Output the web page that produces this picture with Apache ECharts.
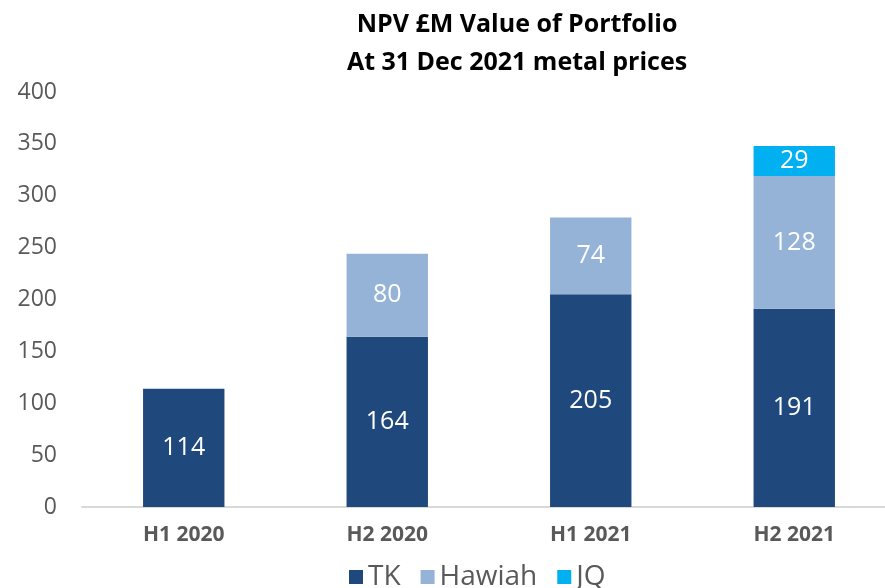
<!DOCTYPE html>
<html>
<head>
<meta charset="utf-8">
<script src="https://cdn.jsdelivr.net/npm/echarts@6/dist/echarts.min.js"></script>
<style>
  html, body { margin: 0; padding: 0; background: #fff; overflow: hidden; }
  #wrap { width: 885px; height: 588px; overflow: hidden; }
  #chart { width: 896px; height: 588px; }
</style>
</head>
<body>
<div id="wrap"><div id="chart"></div></div>
<script>
  const categories = ['H1 2020', 'H2 2020', 'H1 2021', 'H2 2021']
  const tkValues = [114, 164, 205, 191]
  const hawiahValues = [null, 80, 74, 128]
  const jqValues = [null, null, null, 29]

  const chart = echarts.init(document.getElementById('chart'))

  const barLabel = {
    show: true,
    position: 'inside',
    color: '#fff',
    fontSize: 25,
    fontFamily: 'Open Sans'
  }

  chart.setOption({
    animation: false,
    title: {
      text: 'NPV £M Value of Portfolio\nAt 31 Dec 2021 metal prices',
      left: 512,
      textAlign: 'center',
      top: 1,
      textStyle: {
        fontFamily: 'Open Sans',
        fontWeight: 'bold',
        fontSize: 25,
        lineHeight: 38,
        color: '#000'
      }
    },
    legend: {
      bottom: -8,
      left: 344,
      itemWidth: 14,
      itemHeight: 14,
      itemGap: 20,
      icon: 'rect',
      textStyle: { fontSize: 28, color: '#595959', fontFamily: 'Open Sans' },
      data: ['TK', 'Hawiah', 'JQ']
    },
    grid: {
      left: 82,
      top: 92,
      bottom: 81,
      right: 0
    },
    xAxis: {
      type: 'category',
      data: categories,
      axisLine: { lineStyle: { color: '#d9d9d9', width: 2 } },
      axisTick: { show: false },
      axisLabel: {
        margin: 18,
        fontSize: 21,
        fontWeight: 'bold',
        color: '#595959',
        fontFamily: 'Open Sans'
      }
    },
    yAxis: {
      type: 'value',
      min: 0,
      max: 400,
      interval: 50,
      splitLine: { show: false },
      axisLine: { show: false },
      axisLabel: {
        margin: 25,
        fontSize: 23,
        color: '#595959',
        fontFamily: 'Open Sans'
      }
    },
    series: [
      {
        name: 'TK',
        type: 'bar',
        stack: 'npv',
        barWidth: '40%',
        data: tkValues,
        itemStyle: { color: '#1f497d' },
        label: barLabel
      },
      {
        name: 'Hawiah',
        type: 'bar',
        stack: 'npv',
        data: hawiahValues,
        itemStyle: { color: '#95b3d7' },
        label: barLabel
      },
      {
        name: 'JQ',
        type: 'bar',
        stack: 'npv',
        data: jqValues,
        itemStyle: { color: '#00b0f0' },
        label: barLabel
      }
    ]
  })
</script>
</body>
</html>
